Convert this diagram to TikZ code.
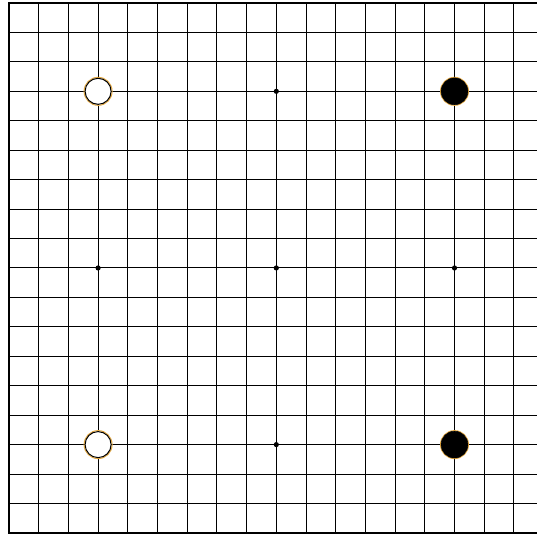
\documentclass[tikz,border=0pt]{standalone}
\usepackage{tikz}

\definecolor{haloc}{RGB}{228,168,64}

\tikzset{
  gridline/.style={line width=1pt, black},
  edgeline/.style={line width=2pt, black},
  starpt/.style={fill=black},
  whitestone/.style={fill=white, draw=black, line width=1pt},
  blackstone/.style={fill=black, draw=black, line width=0.5pt},
}

\begin{document}
\begin{tikzpicture}[x=1pt, y=-1pt]
  \useasboundingbox (0,0) rectangle (537,535);
  \fill[white] (0,0) rectangle (537,535);
  \clip (0,0) rectangle (537,535);

  % board lines
  \foreach \i in {0,...,18} {
    \draw[gridline] ({9+\i*29.7},3) -- ({9+\i*29.7},533);
    \draw[gridline] (9,{3+\i*29.44}) -- (543.6,{3+\i*29.44});
  }
  % edges
  \draw[edgeline] (543.6,3) -- (9,3) -- (9,533) -- (543.6,533);

  % hoshi
  \foreach \i in {3,9,15}
    \foreach \j in {3,9,15}
      \fill[starpt] ({9+\i*29.7},{3+\j*29.44}) circle[radius=2.6pt];

  % stones
  \foreach \i/\j in {3/3, 3/15} {
    \draw[haloc, line width=1pt] ({9+\i*29.7},{3+\j*29.44}) circle[radius=14pt];
    \draw[whitestone] ({9+\i*29.7},{3+\j*29.44}) circle[radius=13pt];
  }
  \foreach \i/\j in {15/3, 15/15} {
    \draw[haloc, line width=1pt] ({9+\i*29.7},{3+\j*29.44}) circle[radius=14pt];
    \draw[blackstone] ({9+\i*29.7},{3+\j*29.44}) circle[radius=13.4pt];
  }
\end{tikzpicture}
\end{document}
